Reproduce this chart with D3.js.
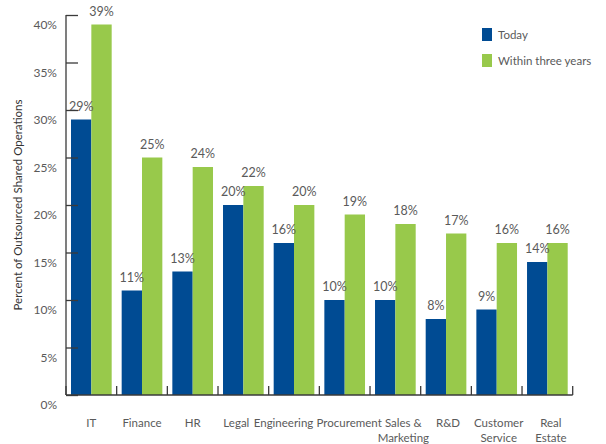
<!DOCTYPE html>
<html>
<head>
<meta charset="utf-8">
<script src="https://cdn.jsdelivr.net/npm/d3@7"></script>
<style>
  html, body { margin: 0; padding: 0; background: #fff; }
  svg { display: block; font-family: Lato, "Open Sans", sans-serif; }
</style>
</head>
<body>
<svg id="chart" width="606" height="444"></svg>
<script>
// Share of operations outsourced, by function
const categories = ["IT", "Finance", "HR", "Legal", "Engineering", "Procurement",
                    "Sales & Marketing", "R&D", "Customer Service", "Real Estate"];
const categoryLines = [["IT"], ["Finance"], ["HR"], ["Legal"], ["Engineering"], ["Procurement"],
                       ["Sales &", "Marketing"], ["R&D"], ["Customer", "Service"], ["Real", "Estate"]];
const seriesNames = ["Today", "Within three years"];
const today = [29, 11, 13, 20, 16, 10, 10, 8, 9, 14];
const withinThreeYears = [39, 25, 24, 22, 20, 19, 18, 17, 16, 16];
const yTicks = [0, 5, 10, 15, 20, 25, 30, 35, 40];

// Small horizontal nudges so crowded category labels do not collide
const labelNudge = { "Legal": -7, "Engineering": -10.5, "Procurement": 4.5, "Sales & Marketing": 8,
                     "R&D": 2, "Customer Service": 2, "Real Estate": 3.5 };

const colors = ["#004b93", "#98c94b"];
const axisColor = "#3a3a3a";
const textColor = "#5a5a5a";

const svg = d3.select("#chart");
const plotLeft = 66, plotRight = 572.7, plotTop = 15, plotBottom = 395;

const x = d3.scaleBand().domain(categories).range([plotLeft, plotRight]).padding(0);
const xInner = d3.scaleBand().domain(seriesNames).range([5, x.bandwidth() - 5]).padding(0);
const y = d3.scaleLinear().domain([0, 40]).range([plotBottom, plotTop]);

const rows = categories.map((c, i) => ({ cat: c, values: [today[i], withinThreeYears[i]] }));

// Bars
const groups = svg.append("g").selectAll("g").data(rows).join("g")
  .attr("transform", d => `translate(${x(d.cat)},0)`);

groups.selectAll("rect").data(d => d.values.map((v, k) => ({ v, k })))
  .join("rect")
  .attr("x", d => xInner(seriesNames[d.k]))
  .attr("width", xInner.bandwidth())
  .attr("y", d => y(d.v))
  .attr("height", d => y(0) - y(d.v))
  .attr("fill", d => colors[d.k]);

// Value labels
groups.selectAll("text").data(d => d.values.map((v, k) => ({ v, k })))
  .join("text")
  .attr("x", d => xInner(seriesNames[d.k]) + xInner.bandwidth() / 2)
  .attr("y", d => y(d.v) - 9)
  .attr("text-anchor", "middle")
  .attr("font-size", 12.5)
  .attr("fill", textColor)
  .text(d => d.v + "%");

// Y axis: ticks point into the plot, labels sit just below each tick
const yAxis = svg.append("g").attr("transform", `translate(${plotLeft},0)`)
  .call(d3.axisLeft(y).tickValues(yTicks).tickSize(-12).tickPadding(9)
    .tickFormat(d => d + "%"));
yAxis.select(".domain").attr("d", `M0,${plotTop}V${plotBottom}`).attr("stroke", axisColor).attr("stroke-width", 1.3);
yAxis.selectAll(".tick line").attr("stroke", axisColor).attr("stroke-width", 1.3);
yAxis.selectAll(".tick text").attr("font-size", 12).attr("fill", textColor)
  .attr("font-family", "Lato, 'Open Sans', sans-serif").attr("dy", "1.15em");

// X axis baseline with tick marks at the category boundaries
const xAxis = svg.append("g");
xAxis.append("line").attr("x1", plotLeft).attr("x2", plotRight).attr("y1", plotBottom).attr("y2", plotBottom)
  .attr("stroke", axisColor).attr("stroke-width", 1.3);
const bounds = categories.map(c => x(c)).concat([x.range()[1]]);
xAxis.selectAll("line.b").data(bounds).join("line").attr("class", "b")
  .attr("x1", d => d).attr("x2", d => d).attr("y1", plotBottom).attr("y2", plotBottom - 9)
  .attr("stroke", axisColor).attr("stroke-width", 1.3);

// Category labels
svg.append("g").selectAll("text").data(categories).join("text")
  .attr("x", c => x(c) + x.bandwidth() / 2 + (labelNudge[c] || 0))
  .attr("y", 427)
  .attr("text-anchor", "middle")
  .attr("font-size", 11.5)
  .attr("fill", textColor)
  .each(function(c, i) {
    const t = d3.select(this);
    categoryLines[i].forEach((line, j) => {
      t.append("tspan").attr("x", t.attr("x")).attr("dy", j === 0 ? 0 : 15).text(line);
    });
  });

// Y axis title
svg.append("text")
  .attr("transform", "translate(22,205) rotate(-90)")
  .attr("text-anchor", "middle")
  .attr("font-size", 11.5)
  .attr("fill", "#333")
  .text("Percent of Outsourced Shared Operations");

// Legend
const legend = svg.append("g").selectAll("g").data(seriesNames).join("g")
  .attr("transform", (d, i) => `translate(482,${28 + i * 26})`);
legend.append("rect").attr("width", 10).attr("height", 13).attr("fill", (d, i) => colors[i]);
legend.append("text").attr("x", 16).attr("y", 11).attr("font-size", 11.5).attr("fill", textColor).text(d => d);
</script>
</body>
</html>
